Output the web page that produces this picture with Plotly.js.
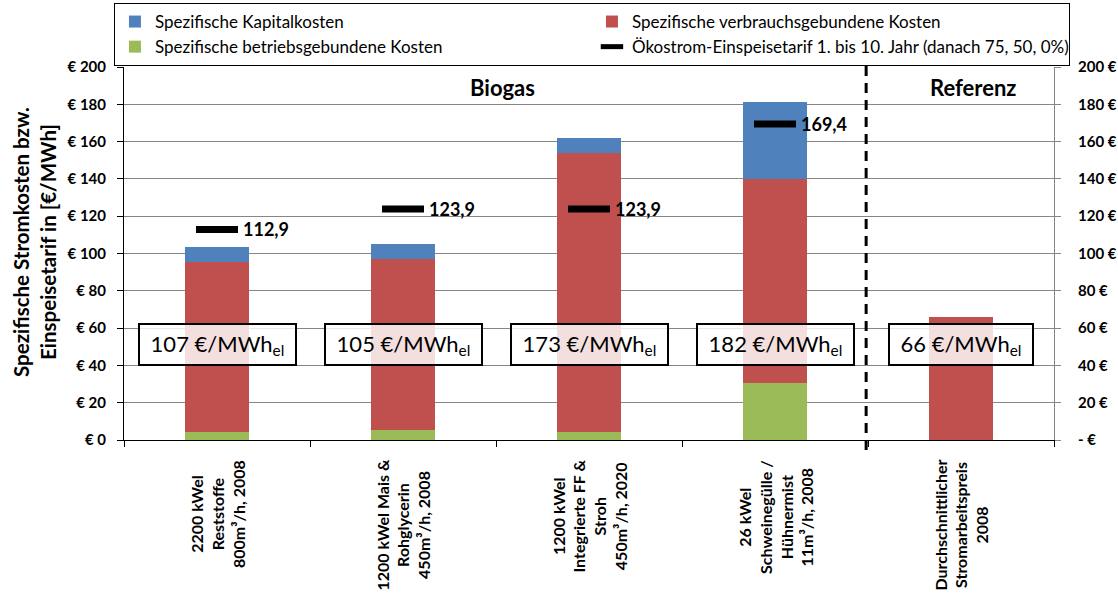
<!DOCTYPE html>
<html><head><meta charset="utf-8">
<script src="https://cdn.plot.ly/plotly-3.0.1.min.js"></script>
<style>html,body{margin:0;padding:0;background:#fff}#chart{width:1118px;height:598px}</style>
</head><body><div id="chart"></div>
<script>
// ---- data ----
const categories = [
  '2200 kWel<br>Reststoffe<br>800m³/h, 2008',
  '1200 kWel Mais &<br>Rohglycerin<br>450m³/h, 2008',
  '1200 kWel<br>Integrierte FF &<br>Stroh<br>450m³/h, 2020',
  '26 kWel<br>Schweinegülle /<br>Hühnermist<br>11m³/h, 2008',
  'Durchschnittlicher<br>Stromarbeitspreis<br>2008'
];
const betriebsKosten   = [4.5, 5.5, 4.5, 30.5, 0];
const verbrauchsKosten = [91, 91.5, 149.5, 109.5, 66];
const kapitalKosten    = [8, 8, 8, 41, 0];
const tarifCategories  = categories.slice(0, 4);
const einspeisetarif   = [112.9, 123.9, 123.9, 169.4];
const boxLabels        = [107, 105, 173, 182, 66];
const leftTickVals  = [0, 20, 40, 60, 80, 100, 120, 140, 160, 180, 200];
const leftTickText  = ['€ 0', '€ 20', '€ 40', '€ 60', '€ 80', '€ 100', '€ 120', '€ 140', '€ 160', '€ 180', '€ 200'];
const rightTickText = ['- €', '20 €', '40 €', '60 €', '80 €', '100 €', '120 €', '140 €', '160 €', '180 €', '200 €'];
const seriesNames = ['Spezifische Kapitalkosten', 'Spezifische verbrauchsgebundene Kosten',
  'Spezifische betriebsgebundene Kosten', 'Ökostrom-Einspeisetarif 1. bis 10. Jahr (danach 75, 50, 0%)'];
const groupLabels = ['Biogas', 'Referenz'];
const yTitleLines = ['Spezifische Stromkosten bzw.', 'Einspeisetarif in [€/MWh]'];

// ---- styling ----
const FONT = 'Lato, "Open Sans", sans-serif';
const BLUE = '#4F81BD', RED = '#C0504D', GREEN = '#9BBB59';

const traces = [
  {type: 'bar', name: seriesNames[2], x: categories, y: betriebsKosten, marker: {color: GREEN}, legendrank: 3, hoverinfo: 'y'},
  {type: 'bar', name: seriesNames[1], x: categories, y: verbrauchsKosten, marker: {color: RED}, legendrank: 2, hoverinfo: 'y'},
  {type: 'bar', name: seriesNames[0], x: categories, y: kapitalKosten, marker: {color: BLUE}, legendrank: 1, hoverinfo: 'y'},
  {type: 'scatter', mode: 'markers', name: seriesNames[3], x: tarifCategories, y: einspeisetarif,
   marker: {symbol: 'line-ew', size: 30, color: '#000', line: {color: '#000', width: 7}},
   cliponaxis: false, legendrank: 4},
  {type: 'scatter', x: [], y: [], yaxis: 'y2', showlegend: false, hoverinfo: 'skip'}
];

const annotations = [];
categories.forEach((c) => {
  annotations.push({
    xref: 'x', yref: 'paper', x: c, y: 0, yshift: -18, xanchor: 'center', yanchor: 'top',
    textangle: -90, align: 'center', showarrow: false, text: c,
    font: {family: FONT, size: 16, weight: 'bold', color: '#000'}
  });
});
einspeisetarif.forEach((v, i) => {
  annotations.push({
    xref: 'x', yref: 'y', x: tarifCategories[i], y: v, xanchor: 'left', yanchor: 'middle', xshift: 24,
    showarrow: false, text: v.toFixed(1).replace('.', ','),
    font: {family: FONT, size: 18, weight: 'bold', color: '#000'}
  });
});
boxLabels.forEach((v, i) => {
  annotations.push({
    xref: 'x', yref: 'y', x: categories[i], y: 51, xanchor: 'center', yanchor: 'middle',
    showarrow: false, text: v + ' €/MWh<sub>el</sub>',
    font: {family: FONT, size: 22, color: '#000'},
    bgcolor: 'rgba(255,255,255,0.82)', bordercolor: '#000', borderwidth: 2, borderpad: 2,
    width: String(v).length === 3 ? 151 : 138, height: 35
  });
});
annotations.push({xref: 'paper', yref: 'paper', x: 0.4075, y: 0.9437, xanchor: 'center', yanchor: 'middle',
  showarrow: false, text: groupLabels[0], font: {family: FONT, size: 22, weight: 'bold', color: '#000'}});
annotations.push({xref: 'paper', yref: 'paper', x: 0.913, y: 0.9437, xanchor: 'center', yanchor: 'middle',
  showarrow: false, text: groupLabels[1], font: {family: FONT, size: 22, weight: 'bold', color: '#000'}});
annotations.push({xref: 'paper', yref: 'paper', x: 0, xshift: -89, y: 0.531, xanchor: 'center', yanchor: 'middle',
  textangle: -90, align: 'center', showarrow: false, text: yTitleLines.join('<br>'),
  font: {family: FONT, size: 20.5, weight: 'bold', color: '#000'}});

const layout = {
  width: 1118, height: 598,
  margin: {l: 124, r: 64, t: 67, b: 158, autoexpand: false},
  paper_bgcolor: '#fff', plot_bgcolor: '#fff',
  font: {family: FONT, color: '#000'},
  barmode: 'stack', bargap: 0.66,
  showlegend: true,
  legend: {orientation: 'h', x: -0.0108, xanchor: 'left', y: 1.1716, yanchor: 'top',
    bgcolor: '#fff', bordercolor: '#000', borderwidth: 1, entrywidth: 432, itemwidth: 30,
    font: {family: FONT, size: 17, color: '#000'}, traceorder: 'normal'},
  xaxis: {type: 'category', showticklabels: false, tickson: 'boundaries', ticks: 'outside', ticklen: 6,
    tickcolor: '#000', showline: true, linecolor: '#000', linewidth: 1, showgrid: false, fixedrange: true},
  yaxis: {range: [0, 200], tickvals: leftTickVals, ticktext: leftTickText, ticks: 'outside', ticklen: 6,
    tickcolor: '#000', showline: true, linecolor: '#000', linewidth: 1, showgrid: true, gridcolor: '#868686',
    gridwidth: 1, zeroline: false, ticklabelstandoff: 8,
    tickfont: {family: FONT, size: 15, weight: 'bold', color: '#000'}},
  yaxis2: {overlaying: 'y', side: 'right', range: [0, 200], tickvals: leftTickVals, ticktext: rightTickText,
    ticks: 'outside', ticklen: 6, tickcolor: '#868686', showline: true, linecolor: '#868686', linewidth: 1,
    showgrid: false, zeroline: false, ticklabelstandoff: 14,
    tickfont: {family: FONT, size: 15, weight: 'bold', color: '#000'}},
  shapes: [{type: 'line', xref: 'x', yref: 'paper', x0: 3.49, x1: 3.49, y0: -0.027, y1: 1.0107,
    line: {color: '#000', width: 3, dash: '10px,7px'}, layer: 'above'}],
  annotations: annotations
};

Plotly.newPlot('chart', traces, layout, {displayModeBar: false, staticPlot: true});
</script>
</body></html>
